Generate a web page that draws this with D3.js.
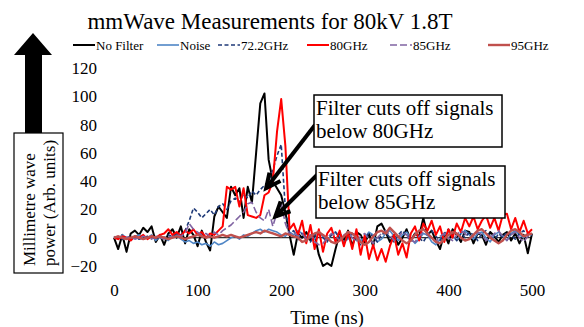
<!DOCTYPE html>
<html>
<head>
<meta charset="utf-8">
<script src="https://cdn.jsdelivr.net/npm/d3@7"></script>
<style>
  body { margin: 0; background: #fff; }
  svg, svg text { font-family: "Liberation Serif", "Times New Roman", serif; }
</style>
</head>
<body>
<svg id="chart" width="584" height="327"></svg>
<script>
// sample times (ns), one value every 5 ns
const times = d3.range(0, 501, 5);

const noFilter = [0,-8,2,-10,3,5,2,7,4,8,-3,2,-5,3,6,0,8,-4,6,2,
  -6,5,-3,-9,15,22,18,14,36,30,35,14,36,25,60,95,102,55,40,35,
  30,18,2,-12,3,0,4,-2,2,-12,-20,-18,-20,-8,3,-2,5,-6,4,2,
  -4,3,-6,8,10,4,-3,2,-5,0,6,-2,3,1,14,2,5,-2,-8,3,
  -4,6,2,-3,5,4,-4,3,2,-5,4,1,-3,2,4,-2,3,-4,2,-11,3];
const noise = [1,-1,2,0,-2,1,2,-1,0,2,-2,1,0,-2,1,2,-1,-3,-2,-4,
  -3,-5,-4,-6,-3,-5,-4,-2,0,1,-1,2,1,3,5,6,4,6,5,4,
  2,1,4,2,5,3,0,2,-1,3,1,-2,2,4,1,-3,-1,3,2,-2,
  0,4,2,-3,-1,3,5,1,-2,2,4,0,-4,-1,3,2,-3,-5,-1,2,
  4,1,-2,3,5,2,-1,3,4,0,-3,2,4,1,-2,3,5,2,0,3,2];
const ghz72 = [0,1,-1,0,1,0,-1,0,1,0,-1,1,0,2,1,3,2,5,12,21,
  18,14,17,20,16,22,24,20,26,28,25,31,28,33,30,34,37,40,48,58,
  66,20,3,5,-2,3,1,-3,2,4,0,-3,2,4,-1,-4,1,3,-2,-5,
  0,3,1,-3,2,4,0,-3,2,5,1,-2,3,0,-3,2,5,1,-2,3,
  6,2,-2,3,0,4,2,-2,3,5,1,-2,3,0,4,2,-1,3,5,1,2];
const ghz80 = [0,-1,1,0,-2,1,0,2,-1,1,0,2,3,6,2,4,1,5,3,6,
  2,4,0,3,2,5,8,36,34,36,22,35,16,15,14,16,30,32,40,75,
  98,65,6,10,2,12,-4,9,-8,6,-10,3,7,-3,5,-6,4,-8,6,-12,
  2,-15,-5,-16,-8,-17,-6,2,-12,-4,-14,3,8,-2,10,5,12,2,8,-3,
  6,0,10,4,14,8,15,6,12,16,7,14,5,16,17,6,14,4,12,3,6];
const ghz85 = [0,1,-1,0,1,-1,0,1,0,-1,1,0,-1,1,0,2,1,3,10,6,
  4,2,3,1,4,2,5,7,9,12,15,18,24,25,18,14,12,20,8,18,
  24,10,2,4,1,3,-1,2,-3,-5,-4,0,3,1,-2,2,4,0,-3,1,
  3,-1,-4,0,3,5,2,-2,0,4,2,-2,-3,1,4,2,-1,-3,1,3,
  0,-2,2,5,3,-1,1,4,2,-2,0,3,5,1,-2,2,4,0,-3,1,2];
const ghz95 = [0,1,0,-1,0,1,0,-1,0,1,0,1,0,-1,0,1,0,-1,0,1,
  2,1,0,1,0,1,2,1,2,1,0,1,2,3,4,3,5,4,3,2,
  1,3,2,1,0,-3,-2,1,3,4,2,0,-3,-4,-2,1,4,3,0,-3,
  -5,-3,1,4,5,3,7,4,1,-2,-4,-2,2,5,6,3,0,-3,-4,-1,
  2,4,3,0,-2,-1,2,5,6,3,0,-2,-4,-2,2,5,6,4,1,2,3];

const seriesNames = ["No Filter", "Noise", "72.2GHz", "80GHz", "85GHz", "95GHz"];
const seriesValues = [noFilter, noise, ghz72, ghz80, ghz85, ghz95];
const seriesColors = ["#000000", "#4f86c6", "#1f3a78", "#ff0000", "#8064a2", "#c0504d"];
const seriesWidths = [2, 1.6, 1.6, 2, 1.6, 2.4];
const seriesDash = [null, null, "4,2.5", null, "7,3", null];

const xTicks = [0, 100, 200, 300, 400, 500];
const yTicks = [-20, 0, 20, 40, 60, 80, 100, 120];

const serif = "Liberation Serif, Times New Roman, serif";
const svg = d3.select("#chart");

const x = d3.scaleLinear().domain([0, 500]).range([114, 532]);
const y = d3.scaleLinear().domain([-20, 120]).range([266, 68]);

// title
svg.append("text")
  .attr("x", 270).attr("y", 29)
  .attr("text-anchor", "middle")
  .attr("font-family", serif)
  .style("font-size", "23px")
  .text("mmWave Measurements for 80kV 1.8T");

// legend
const legendX = [73, 157, 218, 307, 390, 488];
const legend = svg.append("g").attr("font-family", serif);
seriesNames.forEach((name, i) => {
  const g = legend.append("g").attr("transform", "translate(" + legendX[i] + ",45)");
  g.append("line")
    .attr("x1", 0).attr("x2", 22).attr("y1", 0).attr("y2", 0)
    .attr("stroke", seriesColors[i])
    .attr("stroke-width", seriesWidths[i])
    .attr("stroke-dasharray", seriesDash[i]);
  g.append("text")
    .attr("x", 23).attr("y", 4.5)
    .style("font-size", "13px")
    .text(name);
});

// y axis labels
svg.append("g")
  .attr("transform", "translate(114,0)")
  .call(d3.axisLeft(y).tickValues(yTicks).tickSize(0).tickPadding(17))
  .attr("font-family", serif)
  .attr("font-size", 17)
  .call(g => g.select(".domain").remove())
  .selectAll("text")
  .attr("fill", "#000");

// x axis labels at the bottom
svg.append("g")
  .attr("transform", "translate(0,266)")
  .call(d3.axisBottom(x).tickValues(xTicks).tickSize(0).tickPadding(18))
  .attr("font-family", serif)
  .attr("font-size", 17)
  .call(g => g.select(".domain").remove())
  .selectAll("text")
  .attr("fill", "#000");

// zero line
svg.append("line")
  .attr("x1", x(0)).attr("x2", x(500))
  .attr("y1", y(0)).attr("y2", y(0))
  .attr("stroke", "#000").attr("stroke-width", 1);

svg.append("text")
  .attr("x", 327).attr("y", 324)
  .attr("text-anchor", "middle")
  .attr("font-family", serif)
  .style("font-size", "19px")
  .text("Time (ns)");

// series
const line = d3.line()
  .x((d, i) => x(times[i]))
  .y(d => y(d));

seriesValues.forEach((vals, i) => {
  svg.append("path")
    .datum(vals)
    .attr("fill", "none")
    .attr("stroke", seriesColors[i])
    .attr("stroke-width", seriesWidths[i])
    .attr("stroke-dasharray", seriesDash[i])
    .attr("stroke-linejoin", "round")
    .attr("d", line);
});

// y axis title: arrow + box
const arrow = svg.append("g");
arrow.append("path")
  .attr("d", "M33,33 L52,55 L42,55 L42,133 L25,133 L25,55 L14,55 Z")
  .attr("fill", "#000");
arrow.append("rect")
  .attr("x", 14).attr("y", 133).attr("width", 49).attr("height", 140)
  .attr("fill", "#fff").attr("stroke", "#000").attr("stroke-width", 1.2);
const ytitle = ["Millimetre wave", "power (Arb. units)"];
ytitle.forEach((t, i) => {
  svg.append("text")
    .attr("transform", "translate(" + (35 + i * 20) + ",266) rotate(-90)")
    .attr("font-family", serif)
    .style("font-size", "17px")
    .text(t);
});

// annotations
const notes = [
  { lines: ["Filter cuts off signals", "below 80GHz"], box: [314, 95, 188, 52], from: [315, 125], t: 182, v: 35 },
  { lines: ["Filter cuts off signals", "below 85GHz"], box: [316, 166, 189, 52], from: [319, 173], t: 193, v: 15 }
];
notes.forEach(n => {
  const tx = x(n.t), ty = y(n.v);
  const ang = Math.atan2(ty - n.from[1], tx - n.from[0]);
  const len = 16, spread = 0.45;
  svg.append("line")
    .attr("x1", n.from[0]).attr("y1", n.from[1])
    .attr("x2", tx).attr("y2", ty)
    .attr("stroke", "#000").attr("stroke-width", 4);
  svg.append("path")
    .attr("d", "M" + (tx - len * Math.cos(ang - spread)) + "," + (ty - len * Math.sin(ang - spread)) +
      " L" + tx + "," + ty +
      " L" + (tx - len * Math.cos(ang + spread)) + "," + (ty - len * Math.sin(ang + spread)))
    .attr("fill", "none").attr("stroke", "#000").attr("stroke-width", 4);
  svg.append("rect")
    .attr("x", n.box[0]).attr("y", n.box[1]).attr("width", n.box[2]).attr("height", n.box[3])
    .attr("fill", "#fff").attr("stroke", "#000").attr("stroke-width", 1.5);
  n.lines.forEach((t, i) => {
    svg.append("text")
      .attr("x", n.box[0] + 2).attr("y", n.box[1] + 20 + i * 23)
      .attr("font-family", serif)
      .style("font-size", "21px")
      .text(t);
  });
});
</script>
</body>
</html>
